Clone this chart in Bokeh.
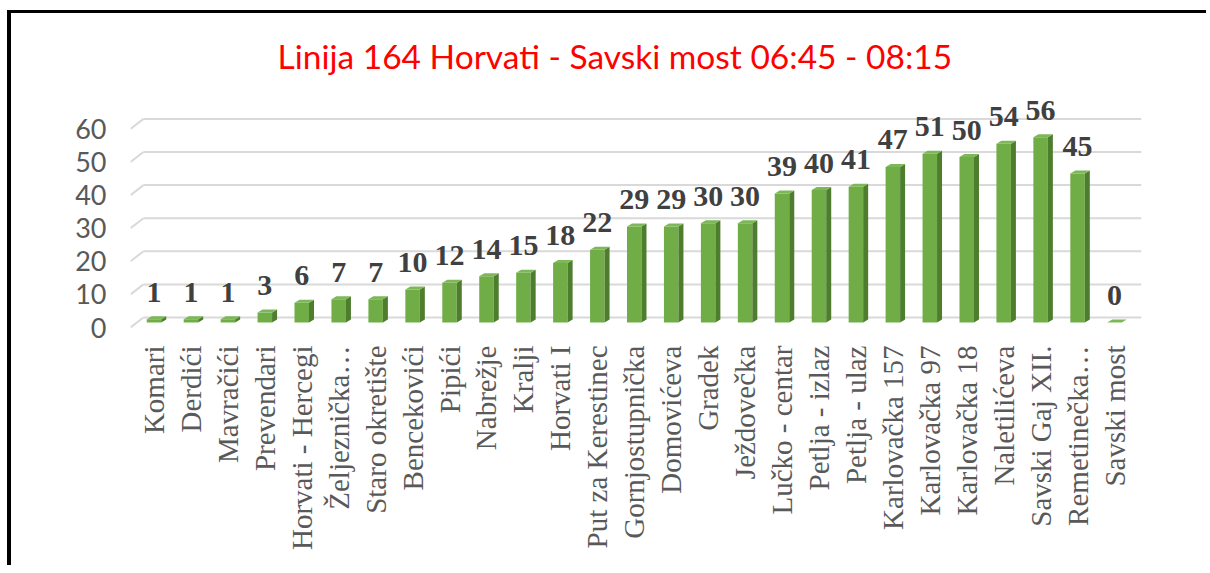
import math
from bokeh.plotting import figure
from bokeh.models import Range1d, FixedTicker, LinearAxis
from bokeh.core.properties import value
from bokeh.embed import file_html
from bokeh.resources import INLINE

# ---------------- data ----------------
categories = ["Komari", "Derdići", "Mavračići", "Prevendari", "Horvati - Hercegi",
              "Željeznička…", "Staro okretište", "Bencekovići", "Pipići", "Nabrežje",
              "Kralji", "Horvati I", "Put za Kerestinec", "Gornjostupnička",
              "Domovićeva", "Gradek", "Ježdovečka", "Lučko - centar", "Petlja - izlaz",
              "Petlja - ulaz", "Karlovačka 157", "Karlovačka 97", "Karlovačka 18",
              "Naletilićeva", "Savski Gaj XII.", "Remetinečka…", "Savski most"]
passengers = [1, 1, 1, 3, 6, 7, 7, 10, 12, 14, 15, 18, 22, 29, 29, 30, 30, 39, 40,
              41, 47, 51, 50, 54, 56, 45, 0]
y_ticks = [0, 10, 20, 30, 40, 50, 60]
title_text = "Linija 164 Horvati - Savski most 06:45 - 08:15"

# ---------------- geometry / style ----------------
W, H = 1199, 555
PX_PER_Y = 3.31        # pixels per data unit (y)
PX_PER_X = 36.95       # pixels per category
FRAME_TOP_PX = 77
FRAME_BOT_PX = 317
BASE_PX = 309          # pixel row of value 0 (front face bottom) inside figure
DEPTH_Y = 5 / PX_PER_Y  # half-depth shift of back wall / front edge
y_start = (BASE_PX - FRAME_BOT_PX) / PX_PER_Y
y_end = (BASE_PX - FRAME_TOP_PX) / PX_PER_Y
x_start = -23.5 / PX_PER_X
x_end = len(categories) - 1 + 27 / PX_PER_X
grid_x0 = x_start + 13 / PX_PER_X
stub_dy = 10 / PX_PER_Y

bar_w = 14.5 / PX_PER_X
side_dx = 5 / PX_PER_X
side_dy = 3 / PX_PER_Y

FRONT = "#70AD47"
SIDE = "#4E7D2E"
TOP = "#7DB858"

p = figure(width=W, height=H, output_backend="svg", toolbar_location=None,
           x_range=Range1d(x_start, x_end), y_range=Range1d(y_start, y_end),
           x_axis_location=None, y_axis_location=None,
           min_border_left=119, min_border_right=W - 1130,
           min_border_top=FRAME_TOP_PX, min_border_bottom=H - FRAME_BOT_PX)
p.xgrid.visible = False
p.ygrid.visible = False
p.outline_line_color = None
p.background_fill_color = "white"
p.border_fill_color = "white"
p.styles = {"border-left": "4px solid black", "border-top": "3px solid black",
            "border-right": "0px none", "border-bottom": "0px none",
            "position": "absolute", "left": "7px", "top": "10px"}

p.extra_y_ranges = {
    "ticks": Range1d(y_start + DEPTH_Y, y_end + DEPTH_Y),
    "grid": Range1d(y_start - DEPTH_Y, y_end - DEPTH_Y),
}

# title
p.title.text = title_text
p.title.text_color = "#FF0000"
p.title.text_font = "Lato"
p.title.text_font_style = "normal"
p.title.text_font_size = "33.5px"
p.title.align = "left"
p.title.offset = 147
p.title.standoff = 30

# y axis
yaxis = LinearAxis(y_range_name="ticks", ticker=FixedTicker(ticks=y_ticks))
yaxis.axis_line_color = None
yaxis.major_tick_line_color = None
yaxis.minor_tick_line_color = None
yaxis.major_tick_out = 0
yaxis.major_tick_in = 0
yaxis.major_label_standoff = 24
yaxis.major_label_text_font = "Lato"
yaxis.major_label_text_font_size = "27px"
yaxis.major_label_text_color = "#595959"
p.add_layout(yaxis, "left")

# x axis (categories)
xs = list(range(len(categories)))
xaxis = LinearAxis(ticker=FixedTicker(ticks=xs),
                   major_label_overrides={i: c for i, c in enumerate(categories)})
xaxis.axis_line_color = None
xaxis.major_tick_line_color = None
xaxis.minor_tick_line_color = None
xaxis.major_tick_out = 0
xaxis.major_tick_in = 0
xaxis.major_label_standoff = 15
xaxis.major_label_orientation = math.pi / 2
xaxis.major_label_text_font = "Liberation Serif"
xaxis.major_label_text_font_size = "29px"
xaxis.major_label_text_color = "#595959"
p.add_layout(xaxis, "below")

# gridlines on the back wall with the slanted side-wall stub
p.segment(x0=[grid_x0] * len(y_ticks), y0=y_ticks, x1=[x_end] * len(y_ticks), y1=y_ticks,
          y_range_name="grid", line_color="#D9D9D9", line_width=2)
p.segment(x0=[x_start] * len(y_ticks), y0=[t - stub_dy for t in y_ticks],
          x1=[grid_x0] * len(y_ticks), y1=y_ticks,
          y_range_name="grid", line_color="#D9D9D9", line_width=2)

# 3D columns
lefts = [x - bar_w / 2 for x in xs]
rights = [x + bar_w / 2 for x in xs]
p.quad(left=lefts, right=rights, bottom=[0] * len(xs), top=passengers,
       fill_color=FRONT, line_color=None)
side_x = [[r, r + side_dx, r + side_dx, r] for r in rights]
side_y = [[0, side_dy, v + side_dy, v] for v in passengers]
p.patches(side_x, side_y, fill_color=SIDE, line_color=None)
top_x = [[l, r, r + side_dx, l + side_dx] for l, r in zip(lefts, rights)]
top_y = [[v, v, v + side_dy, v + side_dy] for v in passengers]
p.patches(top_x, top_y, fill_color=TOP, line_color=None)

# data labels
p.text(x=xs, y=passengers, text=[str(v) for v in passengers],
       text_font=value("Liberation Serif"), text_font_style="bold",
       text_font_size="30px", text_color="#404040",
       text_align="center", text_baseline="alphabetic", y_offset=-27)

open("out.html", "w").write(file_html(p, INLINE))
